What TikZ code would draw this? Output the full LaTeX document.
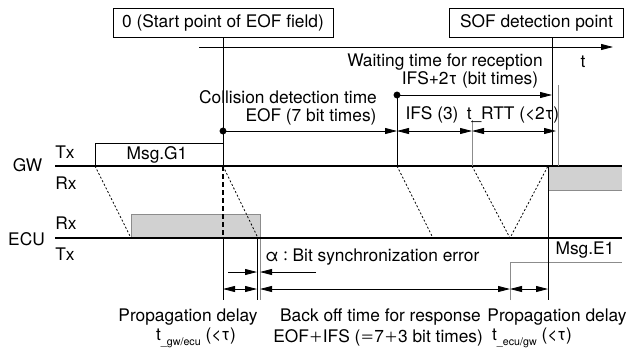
\documentclass[tikz,border=0pt]{standalone}
\usepackage{fontspec}
\setmainfont{TeX Gyre Heros}
\newfontfamily\cjk{Noto Sans CJK JP}
\newcommand{\fw}[1]{{\cjk\fontsize{10.5}{12}\selectfont #1}}
\usetikzlibrary{arrows.meta}

\begin{document}
\begin{tikzpicture}[x=0.75pt, y=-0.75pt, >={Triangle[length=9pt,width=4.5pt]},
    every node/.style={font=\fontsize{13}{15}\selectfont, inner sep=0pt},
    markbox/.style={draw, line width=0.6pt, minimum height=21.75pt, inner sep=0pt},
    bus/.style={line width=2.2pt},
    fine/.style={line width=0.6pt},
    greyline/.style={line width=0.6pt, black!45},
    prop/.style={line width=0.6pt, dash pattern=on 1.5pt off 1.5pt},
    rxfill/.style={fill=black!18, draw=black!45, line width=0.6pt}]
    \useasboundingbox (0,0) rectangle (629,351);

    % Marker
    \node[markbox, minimum width=165pt] (start) at (223,22.5) {0 (Start point of EOF field)};
    \node[markbox, minimum width=131pt] (sof) at (536.5,22.5) {SOF detection point};

    % Zeitachse
    \coordinate (ax0) at (199,47);
    \coordinate (ax1) at (613,47);
    \draw[->, fine] (ax0) -- (ax1);
    \node (t) at (583,62) {t};

    % Leitungen
    \coordinate (gw0) at (55,166);
    \coordinate (gw1) at (622,166);
    \coordinate (ecu0) at (55,238);
    \coordinate (ecu1) at (622,238);
    \node (gw) at (27.5,165) {GW};
    \node (ecu) at (26.5,239) {ECU};
    \node[anchor=west] (gwtx) at (55,152) {Tx};
    \node[anchor=west] (gwrx) at (55,183) {Rx};
    \node[anchor=west] (ecurx) at (55,223) {Rx};
    \node[anchor=west] (ecutx) at (55,254) {Tx};

    % Rahmen
    \fill[black!18] (131,214) rectangle (260,238);
    \draw[greyline] (131,238) |- (260,214) -- (260,300);
    \fill[black!18] (548,166) rectangle (622,190);
    \draw[greyline] (548,190) -- (622,190);
    \draw[fine] (95,166) |- (223,143);
    \node (msgg) at (157,155) {Msg.G1};
    \draw[greyline] (510,300) |- (622,262);
    \node (msge) at (585,250) {Msg.E1};

    \draw[bus] (gw0) -- (gw1);
    \draw[bus] (ecu0) -- (ecu1);

    % Senkrechte
    \draw[fine] (start.south) -- (223,166);
    \draw[line width=1.5pt, dash pattern=on 4pt off 2pt] (223,166) -- (223,238);
    \draw[fine] (223,238) -- (223,300);
    \draw[fine] (257,238) -- (257,300);
    \draw[fine] (397,95) -- (397,166);
    \draw[greyline] (472,120) -- (472,166);
    \draw[fine] (552,37) -- (552,166);
    \draw[greyline] (558,85) -- (558,166);
    \draw[fine] (548,166) -- (548,300);

    % Laufzeiten
    \draw[prop] (95,166) -- (131,238);
    \draw[prop] (223,166) -- (258,238);
    \draw[prop] (397,166) -- (433,238);
    \draw[prop] (472,166) -- (510,238) -- (548,166);

    % Zeiten oben
    \coordinate (col) at (223,131);
    \coordinate (wait) at (397,95);
    \fill (col) circle (2.6pt);
    \fill (wait) circle (2.6pt);
    \draw[->, fine] (col) -- (397,131);
    \draw[->, fine] (wait) -- (552,95);
    \draw[<->, fine] (397,131) -- (472,131);
    \draw[<->, fine] (472,131) -- (556,131);
    \node (coltext) at (288,97) {Collision detection time};
    \node (eoftext) at (311,117) {EOF (7 bit times)};
    \node (waittext) at (445,62) {Waiting time for reception};
    \node (ifstau) at (470,80) {IFS+2τ (bit times)};
    \node (ifs) at (432,115) {IFS (3)};
    \node (rtt) at (513,115) {t\_RTT (<2τ)};

    % Zeiten unten
    \draw[->, fine] (228,272) -- (257,272);
    \draw[->, fine] (316,272) -- (260,272);
    \node[anchor=west] (alpha) at (265,257) {α\fw{：}Bit synchronization error};
    \draw[<->, fine] (223,289) -- (257,289);
    \draw[<->, fine] (260,289) -- (510,289);
    \draw[<->, fine] (510,289) -- (548,289);
    \node (prop1) at (188,317) {Propagation delay};
    \node (tgw) at (196,338) {t\raisebox{-0.5ex}{\fontsize{8}{9}\selectfont\_gw/ecu} (<τ)};
    \node (backoff) at (380.5,317) {Back off time for response};
    \node[anchor=west] (eofifs) at (273,338) {EOF\fw{＋}IFS (\fw{＝}7\fw{＋}3 bit times)};
    \node (prop2) at (557,317) {Propagation delay};
    \node (tecu) at (532,338) {t\raisebox{-0.5ex}{\fontsize{8}{9}\selectfont\_ecu/gw} (<τ)};
\end{tikzpicture}
\end{document}
